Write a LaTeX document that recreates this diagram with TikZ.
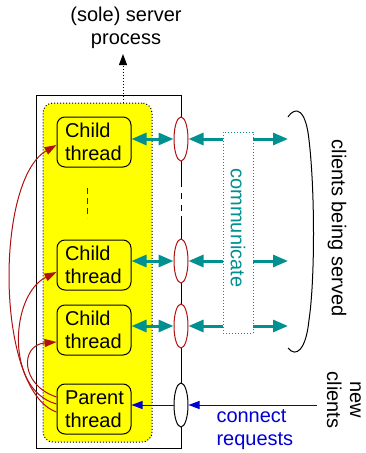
\documentclass[tikz,border=0pt]{standalone}
\usepackage{fontspec}
\setmainfont{Liberation Sans}
\usetikzlibrary{shapes.geometric,arrows.meta}
\definecolor{proc}{RGB}{255,255,0}
\definecolor{comm}{RGB}{0,144,144}
\definecolor{spawn}{RGB}{176,16,16}
\definecolor{conn}{RGB}{0,0,210}

\begin{document}
\begin{tikzpicture}[x=1pt,y=-1pt,line width=1pt,
  every node/.style={font=\fontsize{20}{23}\selectfont},
  thread/.style={draw, rounded corners=8pt, fill=proc, minimum width=74pt, minimum height=50pt, inner sep=0pt, text width=58pt, align=left},
  sock/.style={ellipse, draw=spawn, fill=white, minimum width=14pt, minimum height=44pt, inner sep=0pt},
  talk/.style={comm, line width=3pt, {Triangle[length=15pt,width=12pt]}-{Triangle[length=15pt,width=12pt]}},
  spawnarr/.style={spawn, -{Triangle[length=12pt,width=8pt]}},
  tip/.style={-{Triangle[length=11pt,width=8pt]}}]
\useasboundingbox (0,0) rectangle (366,453);

% process box, right side is the socket line
\draw (181,187) -- (181,95) -- (36,95) -- (36,448) -- (181,448) -- (181,216);
\draw[dash pattern=on 6pt off 6pt] (181,193) -- (181,211);
\node[draw, dotted, fill=proc, rounded corners=10pt, minimum width=109pt, minimum height=339pt, inner sep=0pt] (proc) at (97.5,272.5) {};

\node[align=center] (srv) at (126,28) {(sole) server\\process};
\coordinate (up) at (123,54);
\draw[dotted, tip] (proc.north -| up) -- (up);

\node[thread] (c1) at (94,142) {Child\\thread};
\node[thread] (c2) at (94,265) {Child\\thread};
\node[thread] (c3) at (94,330) {Child\\thread};
\node[thread] (p) at (94,409) {Parent\\thread};
\draw[black!80, dash pattern=on 6pt off 4pt] (87,188) -- (87,218);

\node[sock] (s1) at (181,139) {};
\node[sock] (s2) at (181,261) {};
\node[sock] (s3) at (181,326) {};
\node[sock, draw=black] (s4) at (181,405) {};

% served clients
\coordinate (k1) at (288,139);
\coordinate (k2) at (288,261);
\coordinate (k3) at (288,326);
\draw[talk] (c1.east |- s1) -- (s1.west);
\draw[talk] (c2.east |- s2) -- (s2.west);
\draw[talk] (c3.east |- s3) -- (s3.west);
\draw[talk] (s1.east) -- (k1);
\draw[talk] (s2.east) -- (k2);
\draw[talk] (s3.east) -- (k3);
\node[draw=comm, dotted, fill=white, rotate=-90, minimum width=201pt, minimum height=30pt, inner sep=0pt] (talkbox) at (238,232.5) {};
\node[text=comm, rotate=-90] (talklabel) at (238,228) {communicate};

\draw (288,117) .. controls (296,105) and (306,110) .. (309,140)
  .. controls (315,190) and (315,280) .. (309,320)
  .. controls (306,350) and (296,358) .. (288,348);
\node[rotate=-90] (served) at (337,228) {clients being served};

% new clients
\node[rotate=-90, align=center] (new) at (344,400) {new\\clients};
\coordinate (in) at (317,405);
\draw[conn, tip] (in) -- (s4.east);
\draw[conn, tip] (s4.west) -- (p.east |- s4);
\node[text=conn, align=left, anchor=west, inner sep=0pt] (req) at (216,430) {connect\\requests};

% parent spawns children
\draw[spawnarr] ([yshift=-3pt]p.west) .. controls (-5,390) and (-5,180) .. ([yshift=-3pt]c1.west);
\draw[spawnarr] ([yshift=5pt]p.west) .. controls (5,390) and (10,295) .. ([yshift=-7pt]c2.west);
\draw[spawnarr] ([yshift=12pt]p.west) .. controls (20,385) and (20,345) .. ([yshift=-12pt]c3.west);
\end{tikzpicture}
\end{document}
